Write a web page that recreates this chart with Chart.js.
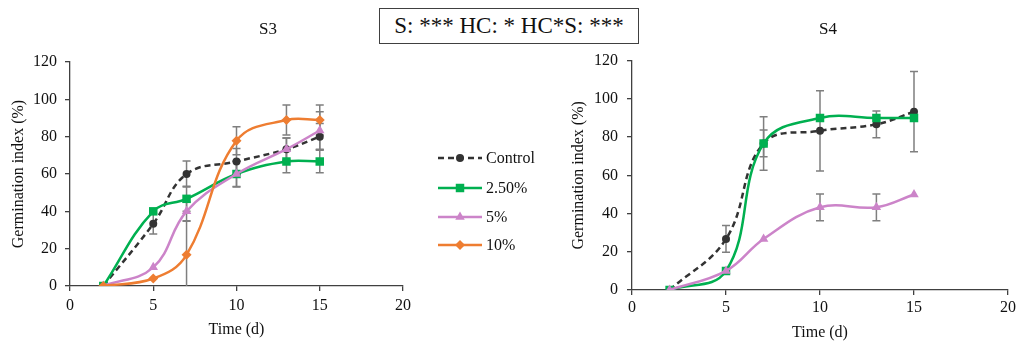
<!DOCTYPE html>
<html>
<head>
<meta charset="utf-8">
<script src="https://cdn.jsdelivr.net/npm/chart.js@4/dist/chart.umd.min.js"></script>
<style>
  html, body { margin: 0; padding: 0; background: #fff; }
  body { width: 1019px; height: 342px; position: relative; overflow: hidden; font-family: "Liberation Serif", "DejaVu Serif", serif; }
  canvas { position: absolute; top: 0; }
  #c3 { left: 0; }
  #c4 { left: 560px; }
  #sig { position: absolute; left: 379px; top: 8px; width: 258px; height: 34px; border: 1.5px solid #404040;
         font-family: "Liberation Serif", serif; font-size: 23px; line-height: 34px; text-align: center; color: #111; background: #fff; }
</style>
</head>
<body>
<canvas id="c3" width="560" height="342" style="width:560px;height:342px"></canvas>
<canvas id="c4" width="459" height="342" style="width:459px;height:342px"></canvas>
<div id="sig">S: *** HC: * HC*S: ***</div>
<script>
// ---- data ----
const days = [2, 5, 7, 10, 13, 15];
const seriesNames = ['Control', '2.50%', '5%', '10%'];
const xTicks = [0, 5, 10, 15, 20];
const yTicks = [0, 20, 40, 60, 80, 100, 120];

const s3Control = [0, 33.3, 60, 66.7, 73.3, 80];
const s3Control_err = [0, 5.5, 7, 7, 6, 7];
const s3G25 = [0, 40, 46.7, 60, 66.7, 66.7];
const s3G25_err = [0, 0, 6.7, 7, 6, 6];
const s3P5 = [0, 10, 40, 60, 73.3, 83.3];
const s3P5_err = [0, 0, 5, 6.7, 6, 10];
const s3O10 = [0, 4, 16.7, 77.8, 88.9, 88.9];
const s3O10_err = [0, 0, 18, 7.5, 8, 8];

const s4Control = [0, 26.7, 76.7, 83.3, 86.7, 93.3];
const s4Control_err = [0, 7, 7, 21, 7, 21];
const s4G25 = [0, 10, 76.7, 90, 90, 90];
const s4G25_err = [0, 0, 14, 0, 0, 0];
const s4P5 = [0, 10, 26.7, 43.3, 43.3, 50];
const s4P5_err = [0, 0, 0, 7, 7, 0];

// ---- styles ----
const FONT = "'Liberation Serif', 'Times New Roman', serif";
const AXIS = '#404040';
const styles = [
  { color: '#333333', pointStyle: 'circle', radius: 4, dash: [6, 4] },
  { color: '#00B050', pointStyle: 'rect', radius: 6, dash: [] },
  { color: '#CC84C9', pointStyle: 'triangle', radius: 5.5, dash: [] },
  { color: '#EE7D31', pointStyle: 'rectRot', radius: 5, dash: [] }
];

function mkDataset(i, values, errs) {
  const s = styles[i];
  return {
    label: seriesNames[i],
    data: days.map((d, k) => ({ x: d, y: values[k] })),
    errors: errs,
    borderColor: s.color,
    backgroundColor: s.color,
    borderWidth: 2.5,
    borderDash: s.dash,
    pointStyle: s.pointStyle,
    pointRadius: s.radius,
    pointBorderWidth: 0,
    pointBackgroundColor: s.color,
    tension: 0.4,
    order: 10 - i
  };
}

const errorBarPlugin = {
  id: 'errorBars',
  beforeDatasetsDraw(chart) {
    const ctx = chart.ctx;
    const xs = chart.scales.x, ys = chart.scales.y;
    ctx.save();
    ctx.strokeStyle = '#7F7F7F';
    ctx.lineWidth = 1.5;
    chart.data.datasets.forEach(ds => {
      ds.data.forEach((p, k) => {
        const e = ds.errors[k];
        if (!e) return;
        const px = xs.getPixelForValue(p.x);
        const lo = Math.max(0, p.y - e);
        const yTop = ys.getPixelForValue(p.y + e);
        const yBot = ys.getPixelForValue(lo);
        ctx.beginPath();
        ctx.moveTo(px, yTop); ctx.lineTo(px, yBot);
        ctx.moveTo(px - 4, yTop); ctx.lineTo(px + 4, yTop);
        if (p.y - e > 0) { ctx.moveTo(px - 4, yBot); ctx.lineTo(px + 4, yBot); }
        ctx.stroke();
      });
    });
    ctx.restore();
  }
};

const titlePlugin = {
  id: 'panelTitle',
  afterDraw(chart, args, opts) {
    const ctx = chart.ctx;
    ctx.save();
    ctx.fillStyle = '#111';
    ctx.font = "17px " + FONT;
    ctx.textAlign = 'center';
    ctx.textBaseline = 'middle';
    ctx.fillText(opts.text, opts.x, opts.y);
    ctx.restore();
  }
};

const legendPlugin = {
  id: 'customLegend',
  afterDraw(chart, args, opts) {
    if (!opts || !opts.show) return;
    const ctx = chart.ctx;
    const rows = [158, 188, 217, 245];
    ctx.save();
    chart.data.datasets.forEach((ds, i) => {
      const s = styles[i];
      const y = rows[i];
      ctx.strokeStyle = s.color;
      ctx.lineWidth = 2.5;
      ctx.setLineDash(s.dash);
      ctx.beginPath(); ctx.moveTo(438, y); ctx.lineTo(482, y); ctx.stroke();
      ctx.setLineDash([]);
      ctx.fillStyle = s.color;
      Chart.helpers.drawPoint(ctx, { pointStyle: s.pointStyle, radius: s.radius, rotation: 0, borderWidth: 0 }, 460, y);
      ctx.fillStyle = '#111';
      ctx.font = "16px " + FONT;
      ctx.textBaseline = 'middle';
      ctx.textAlign = 'left';
      ctx.fillText(ds.label, 486, y + 1);
    });
    ctx.restore();
  }
};

function mkOptions(cfg) {
  return {
    responsive: false,
    animation: false,
    devicePixelRatio: 1,
    layout: { padding: { left: 0, right: cfg.padRight, top: cfg.padTop, bottom: 0 } },
    plugins: {
      legend: { display: false },
      tooltip: { enabled: false },
      title: { display: false },
      panelTitle: { text: cfg.title, x: 268, y: 30 },
      customLegend: { show: cfg.legend }
    },
    scales: {
      x: {
        type: 'linear', min: 0, max: 20,
        afterBuildTicks(s) { s.ticks = xTicks.map(v => ({ value: v })); },
        afterFit(s) { s.height = cfg.xHeight; },
        grid: { drawOnChartArea: false, drawTicks: true, tickLength: 5, color: AXIS, lineWidth: 1.3 },
        border: { color: AXIS, width: 1.3 },
        ticks: { color: '#111', font: { family: FONT, size: 16 }, padding: cfg.xPad, maxRotation: 0 },
        title: { display: true, text: 'Time (d)', color: '#111', font: { family: FONT, size: 16 }, padding: { top: 0, bottom: cfg.xTitleBottom } }
      },
      y: {
        type: 'linear', min: 0, max: 120,
        afterBuildTicks(s) { s.ticks = yTicks.map(v => ({ value: v })); },
        afterFit(s) { s.width = cfg.yWidth; },
        grid: { drawOnChartArea: false, drawTicks: true, tickLength: 5, color: AXIS, lineWidth: 1.3 },
        border: { color: AXIS, width: 1.3 },
        ticks: { color: '#111', font: { family: FONT, size: 16 }, padding: cfg.yPad },
        title: { display: true, text: 'Germination index (%)', color: '#111', font: { family: FONT, size: 16 }, padding: { top: 9.4, bottom: 0 } }
      }
    }
  };
}

new Chart(document.getElementById('c3'), {
  type: 'line',
  data: { datasets: [
    mkDataset(0, s3Control, s3Control_err),
    mkDataset(1, s3G25, s3G25_err),
    mkDataset(2, s3P5, s3P5_err),
    mkDataset(3, s3O10, s3O10_err)
  ] },
  options: mkOptions({ title: 'S3', padRight: 157, padTop: 62, xHeight: 56, yWidth: 70, xPad: 5, yPad: 8, xTitleBottom: 2.4, legend: true }),
  plugins: [errorBarPlugin, legendPlugin, titlePlugin]
});

new Chart(document.getElementById('c4'), {
  type: 'line',
  data: { datasets: [
    mkDataset(0, s4Control, s4Control_err),
    mkDataset(1, s4G25, s4G25_err),
    mkDataset(2, s4P5, s4P5_err)
  ] },
  options: mkOptions({ title: 'S4', padRight: 10, padTop: 60.7, xHeight: 52, yWidth: 72, xPad: 3, yPad: 9, xTitleBottom: 0, legend: false }),
  plugins: [errorBarPlugin, legendPlugin, titlePlugin]
});
</script>
</body>
</html>
